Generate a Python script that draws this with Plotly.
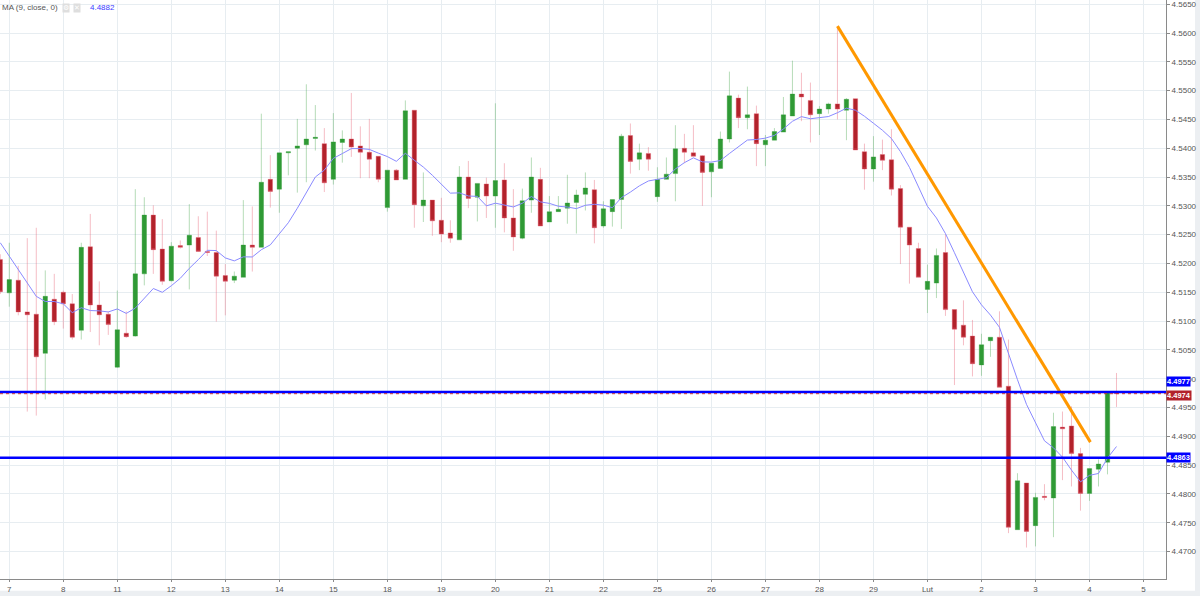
import plotly.graph_objects as go
import pandas as pd

# ---- data (4-hour candles) ----
opens = [4.5207, 4.5149, 4.5171, 4.5116, 4.5112, 4.5044, 4.5138, 4.5150, 4.5130, 4.5084,
         4.5229, 4.5128, 4.5112, 4.5020, 4.5079, 4.5074, 4.5182, 4.5284, 4.5225, 4.5170,
         4.5231, 4.5232, 4.5245, 4.5221, 4.5219, 4.5179, 4.5171, 4.5176, 4.5232, 4.5228,
         4.5346, 4.5329, 4.5392, 4.5400, 4.5406, 4.5417, 4.5408, 4.5346, 4.5410, 4.5416,
         4.5404, 4.5393, 4.5386, 4.5297, 4.5362, 4.5346, 4.5466, 4.5300, 4.5310, 4.5275,
         4.5253, 4.5241, 4.5350, 4.5315, 4.5338, 4.5317, 4.5345, 4.5279, 4.5244, 4.5310,
         4.5346, 4.5272, 4.5290, 4.5296, 4.5306, 4.5320, 4.5328, 4.5265, 4.5290, 4.5311,
         4.5422, 4.5381, 4.5391, 4.5316, 4.5346, 4.5356, 4.5400, 4.5392, 4.5387, 4.5359,
         4.5365, 4.5416, 4.5487, 4.5453, 4.5460, 4.5406, 4.5414, 4.5428, 4.5456, 4.5494,
         4.5483, 4.5460, 4.5468, 4.5477, 4.5466, 4.5486, 4.5394, 4.5364, 4.5389, 4.5380,
         4.5330, 4.5263, 4.5226, 4.5155, 4.5166, 4.5219, 4.5120, 4.5093, 4.5074, 4.5024,
         4.5066, 4.5072, 4.4987, 4.4738, 4.4819, 4.4745, 4.4796, 4.4793, 4.4916, 4.4918,
         4.4870, 4.4801, 4.4843, 4.4855, 4.4976]
highs = [4.5216, 4.5236, 4.5196, 4.5244, 4.5262, 4.5188, 4.5182, 4.5153, 4.5147, 4.5236,
         4.5286, 4.5169, 4.5117, 4.5153, 4.5117, 4.5329, 4.5315, 4.5301, 4.5277, 4.5237,
         4.5240, 4.5303, 4.5282, 4.5290, 4.5257, 4.5199, 4.5186, 4.5310, 4.5299, 4.5460,
         4.5388, 4.5392, 4.5394, 4.5451, 4.5511, 4.5475, 4.5435, 4.5461, 4.5431, 4.5496,
         4.5438, 4.5451, 4.5386, 4.5362, 4.5364, 4.5483, 4.5466, 4.5358, 4.5310, 4.5314,
         4.5275, 4.5369, 4.5378, 4.5339, 4.5349, 4.5478, 4.5374, 4.5329, 4.5330, 4.5384,
         4.5366, 4.5317, 4.5317, 4.5354, 4.5328, 4.5358, 4.5345, 4.5308, 4.5311, 4.5425,
         4.5443, 4.5408, 4.5402, 4.5367, 4.5384, 4.5440, 4.5425, 4.5440, 4.5388, 4.5374,
         4.5429, 4.5533, 4.5493, 4.5507, 4.5474, 4.5423, 4.5435, 4.5489, 4.5552, 4.5531,
         4.5514, 4.5473, 4.5479, 4.5611, 4.5487, 4.5486, 4.5408, 4.5421, 4.5415, 4.5433,
         4.5336, 4.5263, 4.5236, 4.5198, 4.5226, 4.5251, 4.5120, 4.5136, 4.5102, 4.5078,
         4.5072, 4.5117, 4.5068, 4.4836, 4.4819, 4.4802, 4.4817, 4.4941, 4.4943, 4.4952,
         4.4880, 4.4844, 4.4860, 4.4976, 4.5010]
lows = [4.5147, 4.5125, 4.5110, 4.4943, 4.4936, 4.4964, 4.5093, 4.5087, 4.5068, 4.5068,
        4.5081, 4.5058, 4.5076, 4.5019, 4.5071, 4.5073, 4.5162, 4.5182, 4.5163, 4.5169,
        4.5226, 4.5155, 4.5220, 4.5213, 4.5099, 4.5110, 4.5166, 4.5176, 4.5186, 4.5228,
        4.5297, 4.5288, 4.5353, 4.5323, 4.5341, 4.5396, 4.5324, 4.5337, 4.5375, 4.5385,
        4.5348, 4.5348, 4.5341, 4.5290, 4.5345, 4.5346, 4.5262, 4.5272, 4.5248, 4.5237,
        4.5236, 4.5241, 4.5296, 4.5273, 4.5279, 4.5262, 4.5254, 4.5222, 4.5242, 4.5288,
        4.5265, 4.5272, 4.5290, 4.5269, 4.5252, 4.5292, 4.5235, 4.5262, 4.5264, 4.5260,
        4.5356, 4.5362, 4.5361, 4.5307, 4.5346, 4.5308, 4.5374, 4.5386, 4.5300, 4.5315,
        4.5365, 4.5410, 4.5435, 4.5433, 4.5369, 4.5369, 4.5414, 4.5428, 4.5456, 4.5447,
        4.5410, 4.5423, 4.5460, 4.5450, 4.5414, 4.5397, 4.5328, 4.5342, 4.5362, 4.5318,
        4.5199, 4.5165, 4.5176, 4.5114, 4.5140, 4.5109, 4.4989, 4.5058, 4.5004, 4.5005,
        4.5038, 4.4985, 4.4732, 4.4738, 4.4707, 4.4709, 4.4789, 4.4725, 4.4824, 4.4813,
        4.4771, 4.4788, 4.4813, 4.4834, 4.4951]
closes = [4.5151, 4.5172, 4.5116, 4.5111, 4.5038, 4.5143, 4.5099, 4.5130, 4.5072, 4.5228,
          4.5128, 4.5111, 4.5094, 4.5085, 4.5073, 4.5182, 4.5284, 4.5224, 4.5169, 4.5230,
          4.5228, 4.5249, 4.5221, 4.5219, 4.5178, 4.5169, 4.5178, 4.5232, 4.5228, 4.5341,
          4.5325, 4.5392, 4.5394, 4.5404, 4.5416, 4.5419, 4.5340, 4.5411, 4.5416, 4.5402,
          4.5393, 4.5381, 4.5346, 4.5362, 4.5345, 4.5465, 4.5302, 4.5310, 4.5274, 4.5251,
          4.5244, 4.5350, 4.5313, 4.5339, 4.5317, 4.5344, 4.5279, 4.5246, 4.5309, 4.5350,
          4.5265, 4.5290, 4.5294, 4.5305, 4.5319, 4.5331, 4.5262, 4.5295, 4.5311, 4.5421,
          4.5377, 4.5392, 4.5381, 4.5346, 4.5355, 4.5399, 4.5393, 4.5386, 4.5358, 4.5374,
          4.5416, 4.5491, 4.5453, 4.5458, 4.5408, 4.5414, 4.5429, 4.5458, 4.5494, 4.5489,
          4.5458, 4.5468, 4.5477, 4.5468, 4.5485, 4.5397, 4.5364, 4.5385, 4.5379, 4.5329,
          4.5263, 4.5232, 4.5176, 4.5169, 4.5214, 4.5120, 4.5086, 4.5072, 4.5026, 4.5059,
          4.5072, 4.4985, 4.4742, 4.4823, 4.4735, 4.4794, 4.4794, 4.4917, 4.4913, 4.4870,
          4.4801, 4.4844, 4.4852, 4.4976, 4.4974]
# MA values at the first 8 candles (history before visible window)
ma_head = [4.5236, 4.5213, 4.5190, 4.5166, 4.5143, 4.5134, 4.5134, 4.5130]

day_labels = ["7", "8", "11", "12", "13", "14", "15", "18", "19", "20", "21", "22",
              "25", "26", "27", "28", "29", "Lut", "2", "3", "4", "5"]
bars_per_day = 6
first_day_bar = 1

levels_blue = [4.4977, 4.4863]
last_price = 4.4974
trend_x = [93, 121.1]
trend_y = [4.5612, 4.4890]

# ---- derived ----
n = len(closes)
x = list(range(n))
ma = pd.Series(closes).rolling(9).mean().tolist()
ma[:len(ma_head)] = ma_head
tickvals = [first_day_bar + bars_per_day * k for k in range(len(day_labels))]

GREEN = "#2f9a35"
RED = "#b2222b"
FONT = "Liberation Sans, Arial, sans-serif"

fig = go.Figure()
fig.add_trace(go.Candlestick(
    x=x, open=opens, high=highs, low=lows, close=closes,
    increasing=dict(line=dict(color="rgba(47,154,53,0.35)", width=1), fillcolor=GREEN),
    decreasing=dict(line=dict(color="rgba(230,90,110,0.40)", width=1), fillcolor=RED),
    whiskerwidth=0, showlegend=False, hoverinfo="skip"))
fig.add_trace(go.Scatter(x=x, y=ma, mode="lines",
                         line=dict(color="#8a8aff", width=1), showlegend=False,
                         hoverinfo="skip"))
fig.add_trace(go.Scatter(x=trend_x, y=trend_y, mode="lines",
                         line=dict(color="#ff9800", width=3), showlegend=False,
                         hoverinfo="skip"))

shapes = []
for lv in levels_blue:
    shapes.append(dict(type="line", xref="paper", x0=0, x1=1, yref="y", y0=lv, y1=lv,
                       line=dict(color="#0000ff", width=2.5)))
shapes.append(dict(type="line", xref="paper", x0=0, x1=1, yref="y", y0=last_price,
                   y1=last_price, line=dict(color="#c0303a", width=1, dash="dot")))
# light strips at right & bottom edges of the widget
shapes.append(dict(type="rect", xref="paper", yref="paper", x0=1.0249, x1=1.04,
                   y0=-0.04, y1=1.0, fillcolor="#eceff2", line=dict(width=0), layer="below"))
shapes.append(dict(type="rect", xref="paper", yref="paper", x0=0, x1=1.04,
                   y0=-0.04, y1=-0.0205, fillcolor="#eceff2", line=dict(width=0), layer="below"))

annotations = []
# price labels on the axis
annotations.append(dict(xref="paper", x=1.0, xanchor="left", yref="y", y=levels_blue[0],
                        yshift=10, text="<b>%.4f</b>" % levels_blue[0], showarrow=False,
                        bgcolor="#0000ff", font=dict(color="white", size=7.5, family=FONT),
                        borderpad=0))
annotations.append(dict(xref="paper", x=1.0, xanchor="left", yref="y", y=last_price,
                        yshift=-2, text="<b>%.4f</b>" % last_price, showarrow=False,
                        bgcolor="#b2222b", font=dict(color="white", size=7.5, family=FONT),
                        borderpad=0))
annotations.append(dict(xref="paper", x=1.0, xanchor="left", yref="y", y=levels_blue[1],
                        text="<b>%.4f</b>" % levels_blue[1], showarrow=False,
                        bgcolor="#0000ff", font=dict(color="white", size=7.5, family=FONT),
                        borderpad=0))
# indicator legend at top-left
ytop = 1 - 8 / 579
annotations.append(dict(xref="paper", x=0, xanchor="left", yref="paper", y=ytop,
                        yanchor="middle", text="MA (9, close, 0)", showarrow=False,
                        font=dict(color="#555555", size=8, family=FONT)))
annotations.append(dict(xref="paper", x=62 / 1166, xanchor="left", yref="paper", y=ytop,
                        yanchor="middle", text="⚙", showarrow=False, bgcolor="#dedede",
                        font=dict(color="white", size=7, family="DejaVu Sans"), borderpad=0))
annotations.append(dict(xref="paper", x=73 / 1166, xanchor="left", yref="paper", y=ytop,
                        yanchor="middle", text="✕", showarrow=False, bgcolor="#dedede",
                        font=dict(color="white", size=7, family="DejaVu Sans"), borderpad=0))
annotations.append(dict(xref="paper", x=88 / 1166, xanchor="left", yref="paper", y=ytop,
                        yanchor="middle", text="%.4f" % ma[-1], showarrow=False,
                        font=dict(color="#3b3bff", size=8, family=FONT)))

fig.update_layout(
    width=1200, height=596,
    margin=dict(l=0, r=34, t=0, b=17),
    paper_bgcolor="white", plot_bgcolor="white",
    font=dict(family=FONT, size=8, color="#555555"),
    shapes=shapes, annotations=annotations,
    xaxis=dict(range=[-0.03, 129.5], tickmode="array", tickvals=tickvals,
               ticktext=day_labels, showgrid=True, gridcolor="#e7edf1", gridwidth=1,
               zeroline=False, showline=True, linecolor="#8a8a8a", linewidth=1,
               ticks="outside", ticklen=2, tickcolor="#8a8a8a",
               rangeslider=dict(visible=False), fixedrange=True),
    yaxis=dict(side="right", range=[4.46524, 4.56573], dtick=0.005, tick0=4.47,
               tickformat=".4f", showgrid=True, gridcolor="#e7edf1", gridwidth=1,
               zeroline=False, showline=True, linecolor="#8a8a8a", linewidth=1,
               ticks="outside", ticklen=3, tickcolor="#8a8a8a"),
)

fig.write_html("out.html", config={"displayModeBar": False},
               post_script="document.body.style.margin='0';"
                           "document.body.style.overflow='hidden';")
